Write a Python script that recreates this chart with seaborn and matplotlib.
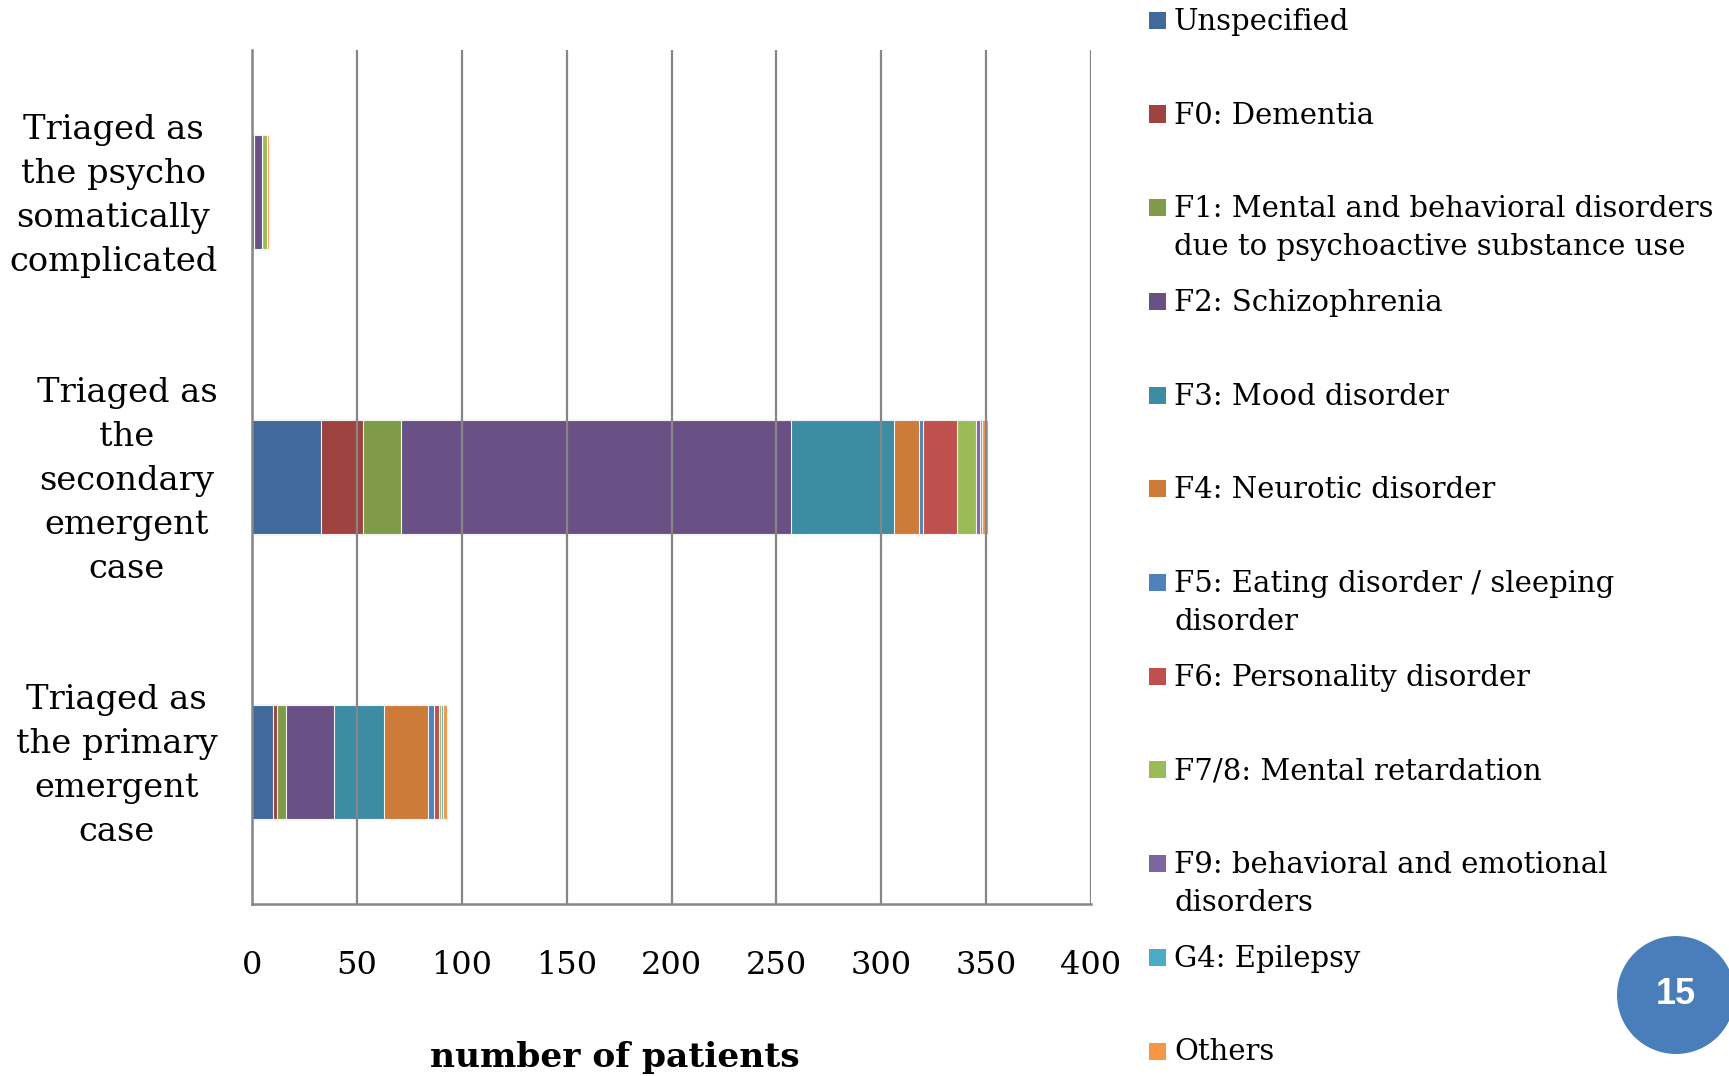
import matplotlib
matplotlib.use("Agg")
import matplotlib.pyplot as plt
from matplotlib.patches import Rectangle, Ellipse
from matplotlib.transforms import ScaledTranslation
import seaborn as sns
import pandas as pd
import numpy as np

# ---- data ----
categories = [
    "Triaged as\nthe psycho\nsomatically\ncomplicated",
    "Triaged as\nthe\nsecondary\nemergent\ncase",
    "Triaged as\nthe primary\nemergent\ncase",
]
series_labels = [
    "Unspecified",
    "F0: Dementia",
    "F1: Mental and behavioral disorders\ndue to psychoactive substance use",
    "F2: Schizophrenia",
    "F3: Mood disorder",
    "F4: Neurotic disorder",
    "F5: Eating disorder / sleeping\ndisorder",
    "F6: Personality disorder",
    "F7/8: Mental retardation",
    "F9: behavioral and emotional\ndisorders",
    "G4: Epilepsy",
    "Others",
]
unspecified = [0, 33, 10]
f0_dementia = [1, 20, 2]
f1_substance = [0, 18, 4]
f2_schizophrenia = [4, 186, 23]
f3_mood = [0, 49, 24]
f4_neurotic = [0, 12, 21]
f5_eating_sleeping = [0, 2, 3]
f6_personality = [0, 16, 2]
f78_retardation = [2, 9, 1]
f9_behavioral = [0, 2, 0]
g4_epilepsy = [0, 1, 1]
others = [1, 3, 2]
x_ticks = [0, 50, 100, 150, 200, 250, 300, 350, 400]
page_number = "15"

series_values = [unspecified, f0_dementia, f1_substance, f2_schizophrenia, f3_mood,
                 f4_neurotic, f5_eating_sleeping, f6_personality, f78_retardation,
                 f9_behavioral, g4_epilepsy, others]
colors = ["#41699B", "#9E4340", "#7F9B4A", "#695185", "#3C8CA3", "#CC7B38",
          "#4F81BD", "#C0504D", "#9BBB59", "#8064A2", "#4BACC6", "#F79646"]

# ---- figure ----
sns.set_style("white")
plt.rcParams["font.family"] = ["DejaVu Serif"]
plt.rcParams["text.color"] = "black"
plt.rcParams["xtick.color"] = "black"
plt.rcParams["ytick.color"] = "black"
W, H = 1729, 1076
fig = plt.figure(figsize=(W / 100, H / 100), dpi=100)
ax = fig.add_axes([252 / W, (H - 904) / H, (1091 - 252) / W, (904 - 50) / H])

df = pd.DataFrame(np.array(series_values).T, columns=series_labels)
df["category"] = categories
cum = df[series_labels].cumsum(axis=1)
cum["category"] = categories

for k in range(len(series_labels) - 1, -1, -1):
    sns.barplot(data=cum, x=series_labels[k], y="category", order=categories,
                color=colors[k], width=0.4, orient="h", ax=ax,
                linewidth=0.8, edgecolor="#f4f4f4", saturation=1)

gridc = "#868686"
ax.set_xlim(0, 400)
ax.set_ylim(2.5, -0.5)
ax.set_xticks(x_ticks)
ax.set_xticklabels([str(t) for t in x_ticks])
ax.xaxis.grid(True, color=gridc, linewidth=1.6)
ax.set_axisbelow(False)
for l in ax.xaxis.get_gridlines():
    l.set_zorder(0.5)
ax.tick_params(axis="x", length=0, pad=33, labelsize=23, labelcolor="black")
ax.tick_params(axis="y", which="major", length=0, pad=25, labelsize=24.3, labelcolor="black")
ax.set_yticks([-0.5, 0.5, 1.5, 2.5], minor=True)
ax.tick_params(axis="y", which="minor", direction="in", length=7, width=1.5, color=gridc)
shift_up = ScaledTranslation(0, 5.5 / 100, fig.dpi_scale_trans)
for lab in ax.get_yticklabels():
    lab.set_multialignment("center")
    lab.set_linespacing(1.48)
    lab.set_transform(lab.get_transform() + shift_up)

for side in ["top", "right"]:
    ax.spines[side].set_visible(False)
for side in ["left", "bottom"]:
    ax.spines[side].set_color(gridc)
    ax.spines[side].set_linewidth(1.8)

ax.set_ylabel("")
ax.set_xlabel("number of patients", fontsize=24.8, fontweight="bold", color="black")
ax.xaxis.set_label_coords((615 - 252) / (1091 - 252), (904 - 1058) / (904 - 50))
ax.xaxis.label.set_va("center")

# ---- legend (manual, right side) ----
for i, (lab, c) in enumerate(zip(series_labels, colors)):
    yc = 19.8 + 93.7 * i
    fig.patches.append(Rectangle((1149 / W, 1 - (yc + 9) / H), 17 / W, 17 / H,
                                 transform=fig.transFigure, facecolor=c, edgecolor="none"))
    fig.text(1174 / W, 1 - (yc - 12) / H, lab, fontsize=21, va="top", ha="left",
             linespacing=1.44, color="black")

# ---- page number badge ----
fig.patches.append(Ellipse((1676 / W, 1 - 995 / H), 2 * 59 / W, 2 * 59 / H,
                           transform=fig.transFigure, facecolor="#4A7EBB", edgecolor="none"))
fig.text(1676 / W, 1 - 995 / H, page_number, fontsize=26, fontweight="bold", color="white",
         ha="center", va="center", family=["Liberation Sans", "DejaVu Sans"])

fig.savefig("out.png", dpi=100)
